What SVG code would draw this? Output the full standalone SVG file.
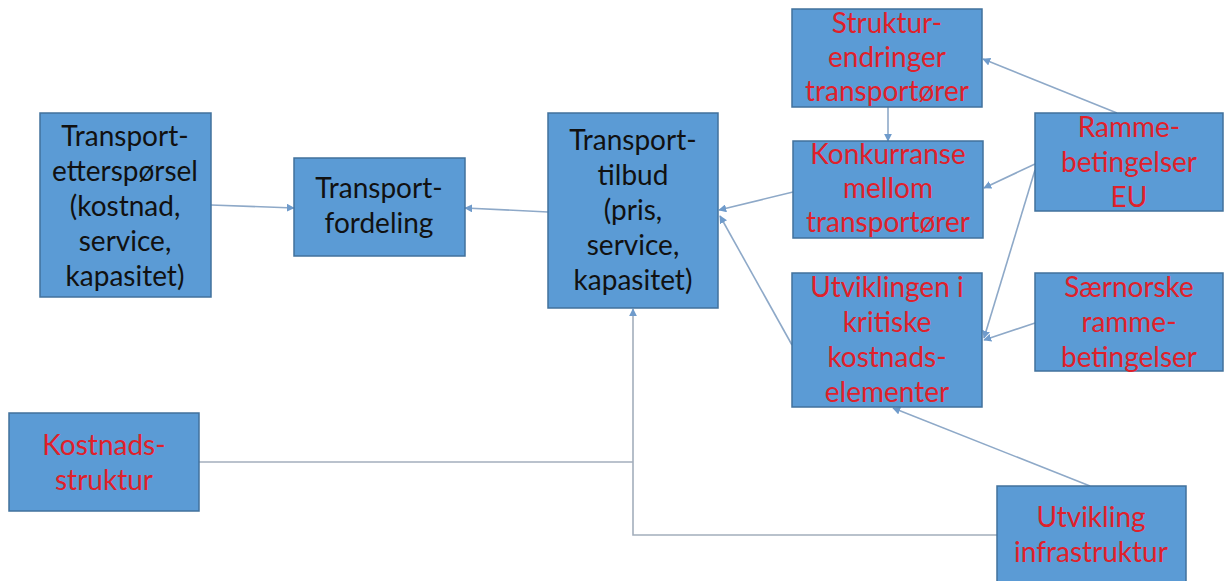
<svg xmlns="http://www.w3.org/2000/svg" width="1232" height="581" viewBox="0 0 1232 581">
<defs>
<style>
.box{fill:#5B9BD5;stroke:#41719C;stroke-width:1.5}
.t{font-family:Lato,"Open Sans",sans-serif;font-size:28px;text-anchor:middle}
.k{fill:#111111}
.r{fill:#E0202A}
.c{fill:none;stroke:#8EA9C8;stroke-width:1.6}
.g{fill:none;stroke:#A3AEBC;stroke-width:1.6}
</style>
<marker id="ah" viewBox="0 0 10 10" refX="9" refY="5" markerWidth="8" markerHeight="8" orient="auto" markerUnits="userSpaceOnUse">
<path d="M0,0 L10,5 L0,10 z" fill="#6F9BCB"/>
</marker>
</defs>
<rect width="1232" height="581" fill="#ffffff"/>
<g id="connectors">
<line class="c" x1="211" y1="205" x2="294" y2="208" marker-end="url(#ah)"/>
<line class="c" x1="548" y1="212" x2="465" y2="208" marker-end="url(#ah)"/>
<line class="c" x1="793" y1="192" x2="719" y2="210" marker-end="url(#ah)"/>
<line class="c" x1="792" y1="345" x2="720" y2="216" marker-end="url(#ah)"/>
<line class="c" x1="888" y1="107" x2="888" y2="141" marker-end="url(#ah)"/>
<line class="c" x1="1117" y1="113" x2="983" y2="59" marker-end="url(#ah)"/>
<line class="c" x1="1035" y1="164" x2="984" y2="188" marker-end="url(#ah)"/>
<line class="c" x1="1035" y1="170" x2="984" y2="338" marker-end="url(#ah)"/>
<line class="c" x1="1035" y1="323" x2="984" y2="340" marker-end="url(#ah)"/>
<line class="c" x1="1090" y1="486" x2="893" y2="408" marker-end="url(#ah)"/>
<polyline class="g" points="199,462 633,462"/>
<polyline class="g" points="997,535 633,535 633,309" marker-end="url(#ah)"/>
</g>
<g id="n1"><rect class="box" x="40" y="113" width="171" height="184"/>
<text class="t k"><tspan x="125" y="146">Transport-</tspan><tspan x="125" y="181">etterspørsel</tspan><tspan x="125" y="216">(kostnad,</tspan><tspan x="125" y="251">service,</tspan><tspan x="125" y="286">kapasitet)</tspan></text></g>
<g id="n2"><rect class="box" x="294" y="158" width="171" height="98"/>
<text class="t k"><tspan x="379" y="198">Transport-</tspan><tspan x="379" y="233">fordeling</tspan></text></g>
<g id="n3"><rect class="box" x="548" y="113" width="170" height="195"/>
<text class="t k"><tspan x="633" y="150">Transport-</tspan><tspan x="633" y="185">tilbud</tspan><tspan x="633" y="220">(pris,</tspan><tspan x="633" y="255">service,</tspan><tspan x="633" y="290">kapasitet)</tspan></text></g>
<g id="n4"><rect class="box" x="792" y="9" width="190" height="98"/>
<text class="t r"><tspan x="887" y="33">Struktur-</tspan><tspan x="887" y="67">endringer</tspan><tspan x="887" y="101">transportører</tspan></text></g>
<g id="n5"><rect class="box" x="793" y="141" width="190" height="97"/>
<text class="t r"><tspan x="888" y="164">Konkurranse</tspan><tspan x="888" y="198">mellom</tspan><tspan x="888" y="232">transportører</tspan></text></g>
<g id="n6"><rect class="box" x="792" y="273" width="190" height="134"/>
<text class="t r"><tspan x="887" y="297">Utviklingen i</tspan><tspan x="887" y="332">kritiske</tspan><tspan x="887" y="367">kostnads-</tspan><tspan x="887" y="402">elementer</tspan></text></g>
<g id="n7"><rect class="box" x="1035" y="113" width="188" height="98"/>
<text class="t r"><tspan x="1129" y="137">Ramme-</tspan><tspan x="1129" y="172">betingelser</tspan><tspan x="1129" y="207">EU</tspan></text></g>
<g id="n8"><rect class="box" x="1035" y="273" width="188" height="98"/>
<text class="t r"><tspan x="1129" y="297">Særnorske</tspan><tspan x="1129" y="332">ramme-</tspan><tspan x="1129" y="367">betingelser</tspan></text></g>
<g id="n9"><rect class="box" x="9" y="413" width="190" height="98"/>
<text class="t r"><tspan x="104" y="455">Kostnads-</tspan><tspan x="104" y="490">struktur</tspan></text></g>
<g id="n10"><rect class="box" x="997" y="486" width="189" height="100"/>
<text class="t r"><tspan x="1091" y="527">Utvikling</tspan><tspan x="1091" y="562">infrastruktur</tspan></text></g>
</svg>
